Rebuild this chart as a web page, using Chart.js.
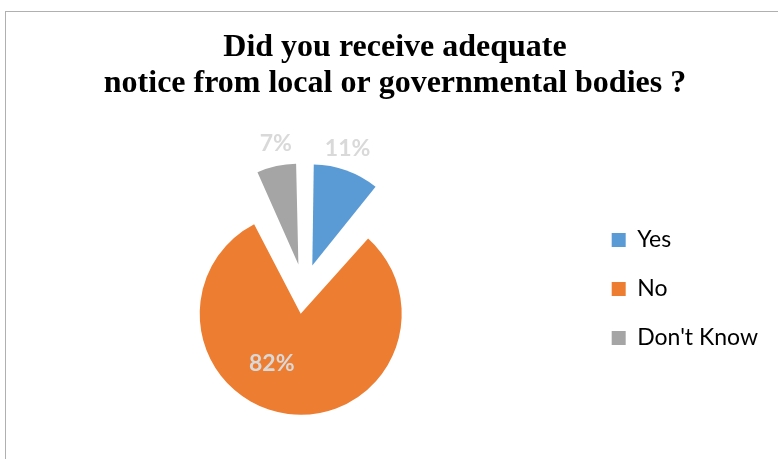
<!DOCTYPE html>
<html>
<head>
<meta charset="utf-8">
<script src="https://cdn.jsdelivr.net/npm/chart.js@4.4.1/dist/chart.umd.min.js"></script>
<style>
  html, body { margin: 0; padding: 0; background: #ffffff; overflow: hidden; }
  #wrap { position: relative; width: 778px; height: 459px; }
  #frame { position: absolute; left: 5px; top: 11px; width: 900px; height: 600px; border: 1px solid #b0b0b0; }
  #pieChart { position: absolute; left: 0; top: 0; }
</style>
</head>
<body>
<div id="wrap">
  <div id="frame"></div>
  <canvas id="pieChart" width="778" height="459"></canvas>
</div>
<script>
// chart data
const titleLines = ['Did you receive adequate', 'notice from local or governmental bodies ?'];
const categories = ['Yes', 'No', "Don't Know"];
const shares = [11, 82, 7];
const sliceColors = ['#5B9BD5', '#ED7D31', '#A5A5A5'];

const pieRadius = 101;
const explode = 100; // chart.js moves a slice by offset / 4

// chart.js grows exploded slices by part of the offset, pull them back to one radius
const evenRadius = {
    id: 'evenRadius',
    beforeDatasetsDraw(chart) {
        chart.getDatasetMeta(0).data.forEach(arc => {
            const circ = arc.endAngle - arc.startAngle;
            const fix = 1 - Math.sin(Math.min(Math.PI, circ));
            arc.outerRadius = pieRadius - (arc.options.offset || 0) / 4 * fix;
        });
    }
};

// percentage labels next to / inside each slice
const pctLabels = {
    id: 'pctLabels',
    afterDatasetsDraw(chart, args, opts) {
        const ctx = chart.ctx;
        const meta = chart.getDatasetMeta(0);
        ctx.save();
        ctx.font = opts.font;
        ctx.fillStyle = opts.color;
        ctx.textAlign = 'center';
        ctx.textBaseline = 'middle';
        meta.data.forEach((arc, i) => {
            const mid = (arc.startAngle + arc.endAngle) / 2;
            const shift = (arc.options.offset || 0) / 4;
            const cx = arc.x + Math.cos(mid) * shift;
            const cy = arc.y + Math.sin(mid) * shift;
            const place = opts.place[i];
            const a = mid + place.turn * Math.PI / 180;
            const r = pieRadius * place.dist;
            ctx.fillText(shares[i] + '%', cx + Math.cos(a) * r, cy + Math.sin(a) * r);
        });
        ctx.restore();
    }
};

const ctx = document.getElementById('pieChart').getContext('2d');
new Chart(ctx, {
    type: 'pie',
    data: {
        labels: categories,
        datasets: [{
            data: shares,
            backgroundColor: sliceColors,
            borderWidth: 0,
            offset: explode
        }]
    },
    options: {
        responsive: false,
        animation: false,
        radius: pieRadius,
        layout: {
            padding: { left: 22, right: 10, top: 0, bottom: 0 }
        },
        plugins: {
            title: {
                display: true,
                text: titleLines,
                color: '#000000',
                font: { family: 'Liberation Serif', size: 32, weight: 'bold', lineHeight: 1.125 },
                padding: { top: 30, bottom: 17 }
            },
            legend: {
                position: 'right',
                fullSize: false,
                labels: {
                    color: '#000000',
                    font: { family: 'Lato', size: 23 },
                    boxWidth: 14,
                    boxHeight: 14,
                    padding: 26
                }
            },
            tooltip: { enabled: false },
            pctLabels: {
                font: 'bold 23px Lato',
                color: '#D9D9D9',
                place: [
                    { dist: 1.21, turn: -3 },
                    { dist: 0.57, turn: 23 },
                    { dist: 1.22, turn: 2 }
                ]
            }
        }
    },
    plugins: [evenRadius, pctLabels]
});
</script>
</body>
</html>
